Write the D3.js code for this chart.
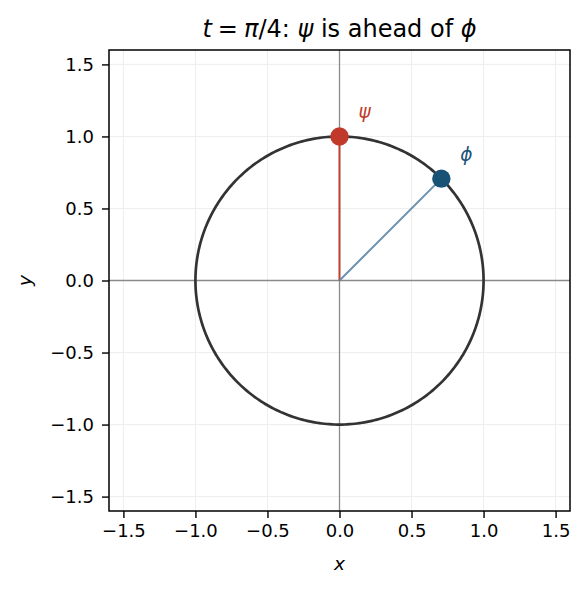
<!DOCTYPE html>
<html>
<head>
<meta charset="utf-8">
<script src="https://cdn.jsdelivr.net/npm/d3@7"></script>
<style>
  body { margin: 0; background: #fff; }
  text { font-family: "DejaVu Sans", sans-serif; }
</style>
</head>
<body>
<svg id="chart" width="587" height="590"></svg>
<script>
let ticks = [-1.5, -1.0, -0.5, 0.0, 0.5, 1.0, 1.5];
let pointNames = ["ψ", "ϕ"];
let pointX = [0, Math.SQRT1_2];
let pointY = [1, Math.SQRT1_2];
let pointColors = ["#c0392b", "#1a5276"];
let lineColors = ["#c0392b", "#5b85a6"];
let circleAngles = d3.range(0, 361, 1);

let margin = {left: 109, right: 17, top: 50, bottom: 79};
let width = 587 - margin.left - margin.right;
let height = 590 - margin.top - margin.bottom;

let svg = d3.select("#chart");
let g = svg.append("g").attr("transform", `translate(${margin.left},${margin.top})`);

let x = d3.scaleLinear().domain([-1.6, 1.6]).range([0, width]);
let y = d3.scaleLinear().domain([-1.6, 1.6]).range([height, 0]);

let fmt = d => d3.format(".1f")(d).replace("-", "\u2212");

// grid
g.append("g").selectAll("line").data(ticks).enter().append("line")
  .attr("x1", d => x(d)).attr("x2", d => x(d)).attr("y1", 0).attr("y2", height)
  .attr("stroke", "#ebebeb").attr("stroke-width", 0.9);
g.append("g").selectAll("line").data(ticks).enter().append("line")
  .attr("y1", d => y(d)).attr("y2", d => y(d)).attr("x1", 0).attr("x2", width)
  .attr("stroke", "#ebebeb").attr("stroke-width", 0.9);

// zero axes
g.append("line").attr("x1", x(0)).attr("x2", x(0)).attr("y1", 0).attr("y2", height)
  .attr("stroke", "#8a8a8a").attr("stroke-width", 1.3);
g.append("line").attr("y1", y(0)).attr("y2", y(0)).attr("x1", 0).attr("x2", width)
  .attr("stroke", "#8a8a8a").attr("stroke-width", 1.3);

// unit circle
let line = d3.line()
  .x(a => x(Math.cos(a * Math.PI / 180)))
  .y(a => y(Math.sin(a * Math.PI / 180)));
g.append("path").datum(circleAngles).attr("d", line)
  .attr("fill", "none").attr("stroke", "#333333").attr("stroke-width", 2.7);

// radial lines
g.append("g").selectAll("line").data(pointX).enter().append("line")
  .attr("x1", x(0)).attr("y1", y(0))
  .attr("x2", d => x(d)).attr("y2", (d, i) => y(pointY[i]))
  .attr("stroke", (d, i) => lineColors[i]).attr("stroke-width", 2)
  .attr("stroke-opacity", 0.9);

// points
g.append("g").selectAll("circle").data(pointX).enter().append("circle")
  .attr("cx", d => x(d)).attr("cy", (d, i) => y(pointY[i])).attr("r", 9.2)
  .attr("fill", (d, i) => pointColors[i]);

// labels
g.append("g").selectAll("text").data(pointNames).enter().append("text")
  .attr("x", (d, i) => x(pointX[i]) + 19)
  .attr("y", (d, i) => y(pointY[i]) - 18)
  .attr("fill", (d, i) => pointColors[i])
  .attr("font-size", 18.5).attr("font-style", "italic")
  .text(d => d);

// axes
let xAxis = d3.axisBottom(x).tickValues(ticks).tickFormat(fmt).tickSize(7).tickPadding(6);
let yAxis = d3.axisLeft(y).tickValues(ticks).tickFormat(fmt).tickSize(7).tickPadding(8);

let gx = g.append("g").attr("transform", `translate(0,${height})`).call(xAxis);
let gy = g.append("g").call(yAxis);
[gx, gy].forEach(a => {
  a.select(".domain").remove();
  a.selectAll("line").attr("stroke", "#000").attr("stroke-width", 1.4);
  a.selectAll("text").attr("font-size", 18).attr("font-family", "DejaVu Sans").attr("fill", "#000");
});

// frame
g.append("rect").attr("width", width).attr("height", height)
  .attr("fill", "none").attr("stroke", "#000").attr("stroke-width", 1.5);

// axis labels
svg.append("text").attr("x", margin.left + x(0)).attr("y", 570)
  .attr("text-anchor", "middle").attr("font-size", 18.5).attr("font-style", "italic").text("x");
svg.append("text")
  .attr("transform", `translate(31,${margin.top + y(0)}) rotate(-90)`)
  .attr("text-anchor", "middle").attr("font-size", 18.5).attr("font-style", "italic").text("y");

// title
let title = svg.append("text").attr("x", margin.left + width / 2).attr("y", 37)
  .attr("text-anchor", "middle").attr("font-size", 24);
title.append("tspan").attr("font-style", "italic").text("t");
title.append("tspan").text("\u2005=\u2005");
title.append("tspan").attr("font-style", "italic").text("π");
title.append("tspan").text("/4: ");
title.append("tspan").attr("font-style", "italic").text("ψ");
title.append("tspan").text(" is ahead of ");
title.append("tspan").attr("font-style", "italic").text("ϕ");
</script>
</body>
</html>
